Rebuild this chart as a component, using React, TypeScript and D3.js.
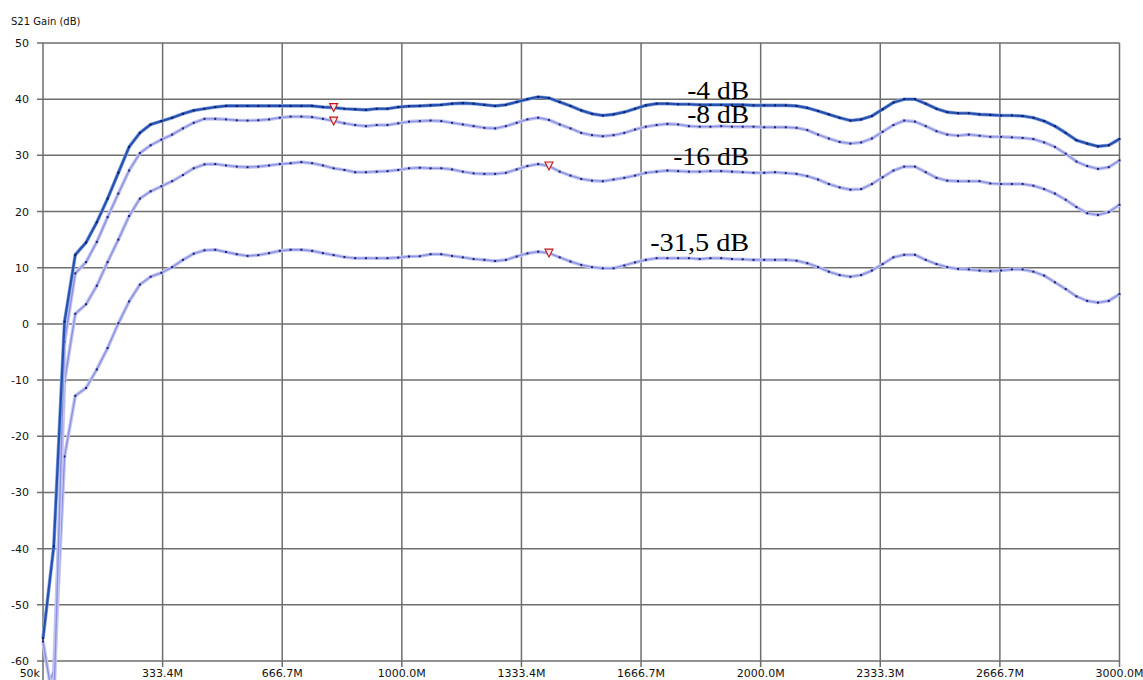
import React from "react";
import * as d3 from "d3";

// Sweep definition (MHz)
const FREQ_START = 0.05;
const FREQ_STOP = 3000;
const POINTS = 101;

const Y_TICKS = [50, 40, 30, 20, 10, 0, -10, -20, -30, -40, -50, -60];
const X_TICK_LABELS = ["50k", "333.4M", "666.7M", "1000.0M", "1333.4M", "1666.7M", "2000.0M", "2333.3M", "2666.7M", "3000.0M"];

const S21_M4 = [
  -56, -39.6, 0.4, 12.3, 14.5, 18.1, 22.3, 26.9, 31.5, 34.0,
  35.5, 36.1, 36.7, 37.4, 38.0, 38.3, 38.6, 38.8, 38.8, 38.8,
  38.8, 38.8, 38.8, 38.8, 38.8, 38.8, 38.6, 38.5, 38.3, 38.2,
  38.1, 38.3, 38.3, 38.6, 38.75, 38.8, 38.9, 39.0, 39.2, 39.3,
  39.2, 39.0, 38.8, 39.0, 39.5, 40.0, 40.4, 40.2, 39.5, 38.8,
  38.0, 37.4, 37.1, 37.3, 37.7, 38.3, 38.9, 39.2, 39.2, 39.1,
  39.1, 39.0, 39.0, 39.0, 39.0, 39.0, 38.9, 38.9, 38.9, 38.9,
  38.8, 38.45, 37.9, 37.3, 36.7, 36.2, 36.4, 37.0, 38.2, 39.4,
  40.0, 40.0, 39.2, 38.3, 37.7, 37.5, 37.5, 37.3, 37.2, 37.1,
  37.1, 37.0, 36.7, 36.1, 35.2, 34.0, 32.7, 32.1, 31.6, 31.8,
  32.9,
];

const S21_M8 = [
  -56.5, -68, -3.2, 9.0, 11.0, 14.6, 19.0, 23.2, 27.3, 30.4,
  31.8, 32.8, 33.7, 34.8, 35.8, 36.5, 36.5, 36.4, 36.25, 36.2,
  36.25, 36.4, 36.7, 36.9, 36.9, 36.8, 36.5, 36.1, 35.7, 35.4,
  35.2, 35.4, 35.4, 35.7, 36.0, 36.1, 36.2, 36.1, 35.8, 35.5,
  35.2, 34.9, 34.8, 35.2, 35.8, 36.4, 36.7, 36.3, 35.5, 34.8,
  34.0, 33.6, 33.4, 33.6, 34.0, 34.6, 35.1, 35.4, 35.6, 35.5,
  35.2, 35.1, 35.1, 35.2, 35.1, 35.1, 35.1, 35.0, 35.0, 35.0,
  34.9, 34.5, 33.7, 33.0, 32.4, 32.1, 32.3, 33.0, 34.2, 35.4,
  36.2, 36.0, 35.2, 34.3, 33.7, 33.5, 33.7, 33.5, 33.3, 33.3,
  33.2, 33.1, 32.9, 32.3, 31.5, 30.3, 28.9, 28.1, 27.6, 27.9,
  29.1,
];

const S21_M16 = [
  -66, -62, -10.2, 1.8, 3.5, 6.8, 11.0, 15.0, 19.2, 22.3,
  23.6, 24.5, 25.4, 26.5, 27.7, 28.4, 28.45, 28.2, 28.0, 27.9,
  28.0, 28.2, 28.45, 28.6, 28.8, 28.6, 28.2, 27.7, 27.4, 27.0,
  27.0, 27.1, 27.2, 27.4, 27.7, 27.8, 27.7, 27.7, 27.5, 27.1,
  26.8, 26.7, 26.7, 26.9, 27.5, 28.1, 28.45, 28.1, 27.1, 26.4,
  25.8, 25.5, 25.4, 25.7, 26.0, 26.4, 26.9, 27.1, 27.3, 27.2,
  27.1, 27.1, 27.2, 27.2, 27.1, 27.0, 26.9, 26.9, 27.0, 26.85,
  26.7, 26.3, 25.7, 24.9, 24.3, 23.9, 24.0, 24.9, 26.1, 27.3,
  28.0, 28.0, 27.0, 26.0, 25.5, 25.4, 25.4, 25.4, 25.0, 24.9,
  24.9, 24.9, 24.6, 24.0, 23.2, 22.1, 20.8, 19.7, 19.4, 19.9,
  21.2,
];

const S21_M315 = [
  -70, -64, -23.6, -12.8, -11.4, -8.1, -4.3, 0.1, 4.0, 7.0,
  8.4, 9.1, 10.1, 11.4, 12.5, 13.1, 13.2, 12.8, 12.4, 12.1,
  12.25, 12.6, 13.0, 13.2, 13.2, 13.0, 12.6, 12.25, 11.9, 11.7,
  11.7, 11.7, 11.7, 11.8, 12.0, 12.05, 12.4, 12.4, 12.1, 11.85,
  11.55, 11.4, 11.2, 11.4, 12.0, 12.55, 12.85, 12.6, 11.85, 11.1,
  10.5, 10.1, 9.9, 9.9, 10.4, 10.95, 11.4, 11.7, 11.7, 11.7,
  11.7, 11.55, 11.7, 11.7, 11.55, 11.5, 11.4, 11.4, 11.4, 11.4,
  11.25, 10.8, 10.1, 9.3, 8.7, 8.4, 8.7, 9.5, 10.65, 11.85,
  12.3, 12.3, 11.4, 10.65, 10.1, 9.8, 9.7, 9.5, 9.4, 9.5,
  9.7, 9.7, 9.3, 8.6, 7.4, 6.2, 4.9, 4.1, 3.8, 4.1,
  5.3,
];

const SERIES_NAMES = ["-31,5 dB", "-16 dB", "-8 dB", "-4 dB"];
const SERIES_VALUES = [S21_M315, S21_M16, S21_M8, S21_M4];
const MARKER_INDEX = [47, 47, 27, 27];
// annotation anchors in data units: [MHz, dB]
const LABEL_ANCHORS = [[1968, 12.9], [1968, 28.3], [1968, 35.7], [1968, 40.0]];

const W = 1143;
const H = 680;

export default function App() {
  const freqs = d3.range(POINTS).map((i) => FREQ_START + (i * (FREQ_STOP - FREQ_START)) / (POINTS - 1));
  const x = d3.scaleLinear().domain([FREQ_START, FREQ_STOP]).range([43, 1119.5]);
  const y = d3.scaleLinear().domain([-60, 50]).range([661, 43]);
  const xTickVals = d3.range(10).map((k) => FREQ_START + (k * (FREQ_STOP - FREQ_START)) / 9);

  const line = d3
    .line<number>()
    .x((_, i) => x(freqs[i]))
    .y((d) => y(d))
    .curve(d3.curveLinear);

  const labelWidths = [99, 76, 62, 62];
  const gridColor = "#6e6e6e";

  return (
    <svg
      width={W}
      height={H}
      viewBox={`0 0 ${W} ${H}`}
      style={{ position: "absolute", left: 0, top: 0, display: "block", background: "#fff" }}
    >
      <rect x={0} y={0} width={W} height={H} fill="#ffffff" />
      {/* horizontal grid */}
      {Y_TICKS.map((t) => (
        <line key={"h" + t} x1={37} x2={x(FREQ_STOP)} y1={y(t)} y2={y(t)} stroke={gridColor} strokeWidth={1.5} />
      ))}
      {/* vertical grid */}
      {xTickVals.map((v, k) => (
        <line key={"v" + k} x1={x(v)} x2={x(v)} y1={y(50)} y2={k === 0 ? 680 : y(-60) + 6} stroke={gridColor} strokeWidth={1.5} />
      ))}
      {/* y labels */}
      {Y_TICKS.map((t) => (
        <text key={"yl" + t} x={29} y={y(t)} dy="0.36em" textAnchor="end" fontFamily="DejaVu Sans, Verdana, sans-serif" fontSize={11} fill="#111">
          {t}
        </text>
      ))}
      {/* x labels */}
      {xTickVals.map((v, k) => (
        <text
          key={"xl" + k}
          x={k === 0 ? x(v) - 3 : x(v)}
          y={677}
          textAnchor={k === 0 ? "end" : "middle"}
          fontFamily="DejaVu Sans, Verdana, sans-serif"
          fontSize={11}
          fill="#111"
        >
          {X_TICK_LABELS[k]}
        </text>
      ))}
      <text x={11} y={25} fontFamily="DejaVu Sans, Verdana, sans-serif" fontSize={10} fill="#111">
        S21 Gain (dB)
      </text>

      {/* series */}
      {SERIES_VALUES.map((vals, s) => {
        const dark = s === 3;
        const d = line(vals) || "";
        return (
          <g key={"s" + s}>
            {dark ? (
              <>
                <path d={d} fill="none" stroke="#8fa6de" strokeWidth={3.6} strokeLinejoin="round" />
                <path d={d} fill="none" stroke="#2552b0" strokeWidth={2.2} strokeLinejoin="round" />
              </>
            ) : (
              <>
                <path d={d} fill="none" stroke="#c3c6f2" strokeWidth={3.6} strokeLinejoin="round" />
                <path d={d} fill="none" stroke="#8a90dc" strokeWidth={1.3} strokeLinejoin="round" />
              </>
            )}
            {vals.map((v, i) => (
              <rect key={i} x={x(freqs[i]) - 1} y={y(v) - 1} width={2} height={2} fill={dark ? "#0b1a66" : "#1a1f78"} />
            ))}
          </g>
        );
      })}

      {/* markers */}
      {SERIES_VALUES.map((vals, s) => {
        const i = MARKER_INDEX[s];
        const cx = x(freqs[i]);
        const cy = y(vals[i]);
        return (
          <path
            key={"m" + s}
            d={`M${cx - 4},${cy - 4} L${cx + 4},${cy - 4} L${cx},${cy + 4} Z`}
            fill="#ffe8e8"
            stroke="#c01818"
            strokeWidth={1.1}
          />
        );
      })}

      {/* series labels */}
      {SERIES_NAMES.map((name, s) => {
        const [f, v] = LABEL_ANCHORS[s];
        const w = labelWidths[s];
        return (
          <text
            key={"lab" + s}
            x={x(f) - w}
            y={y(v)}
            fontFamily="Liberation Serif, Times New Roman, serif"
            fontSize={25}
            textLength={w}
            lengthAdjust="spacingAndGlyphs"
            fill="#000"
          >
            {name}
          </text>
        );
      })}
    </svg>
  );
}
